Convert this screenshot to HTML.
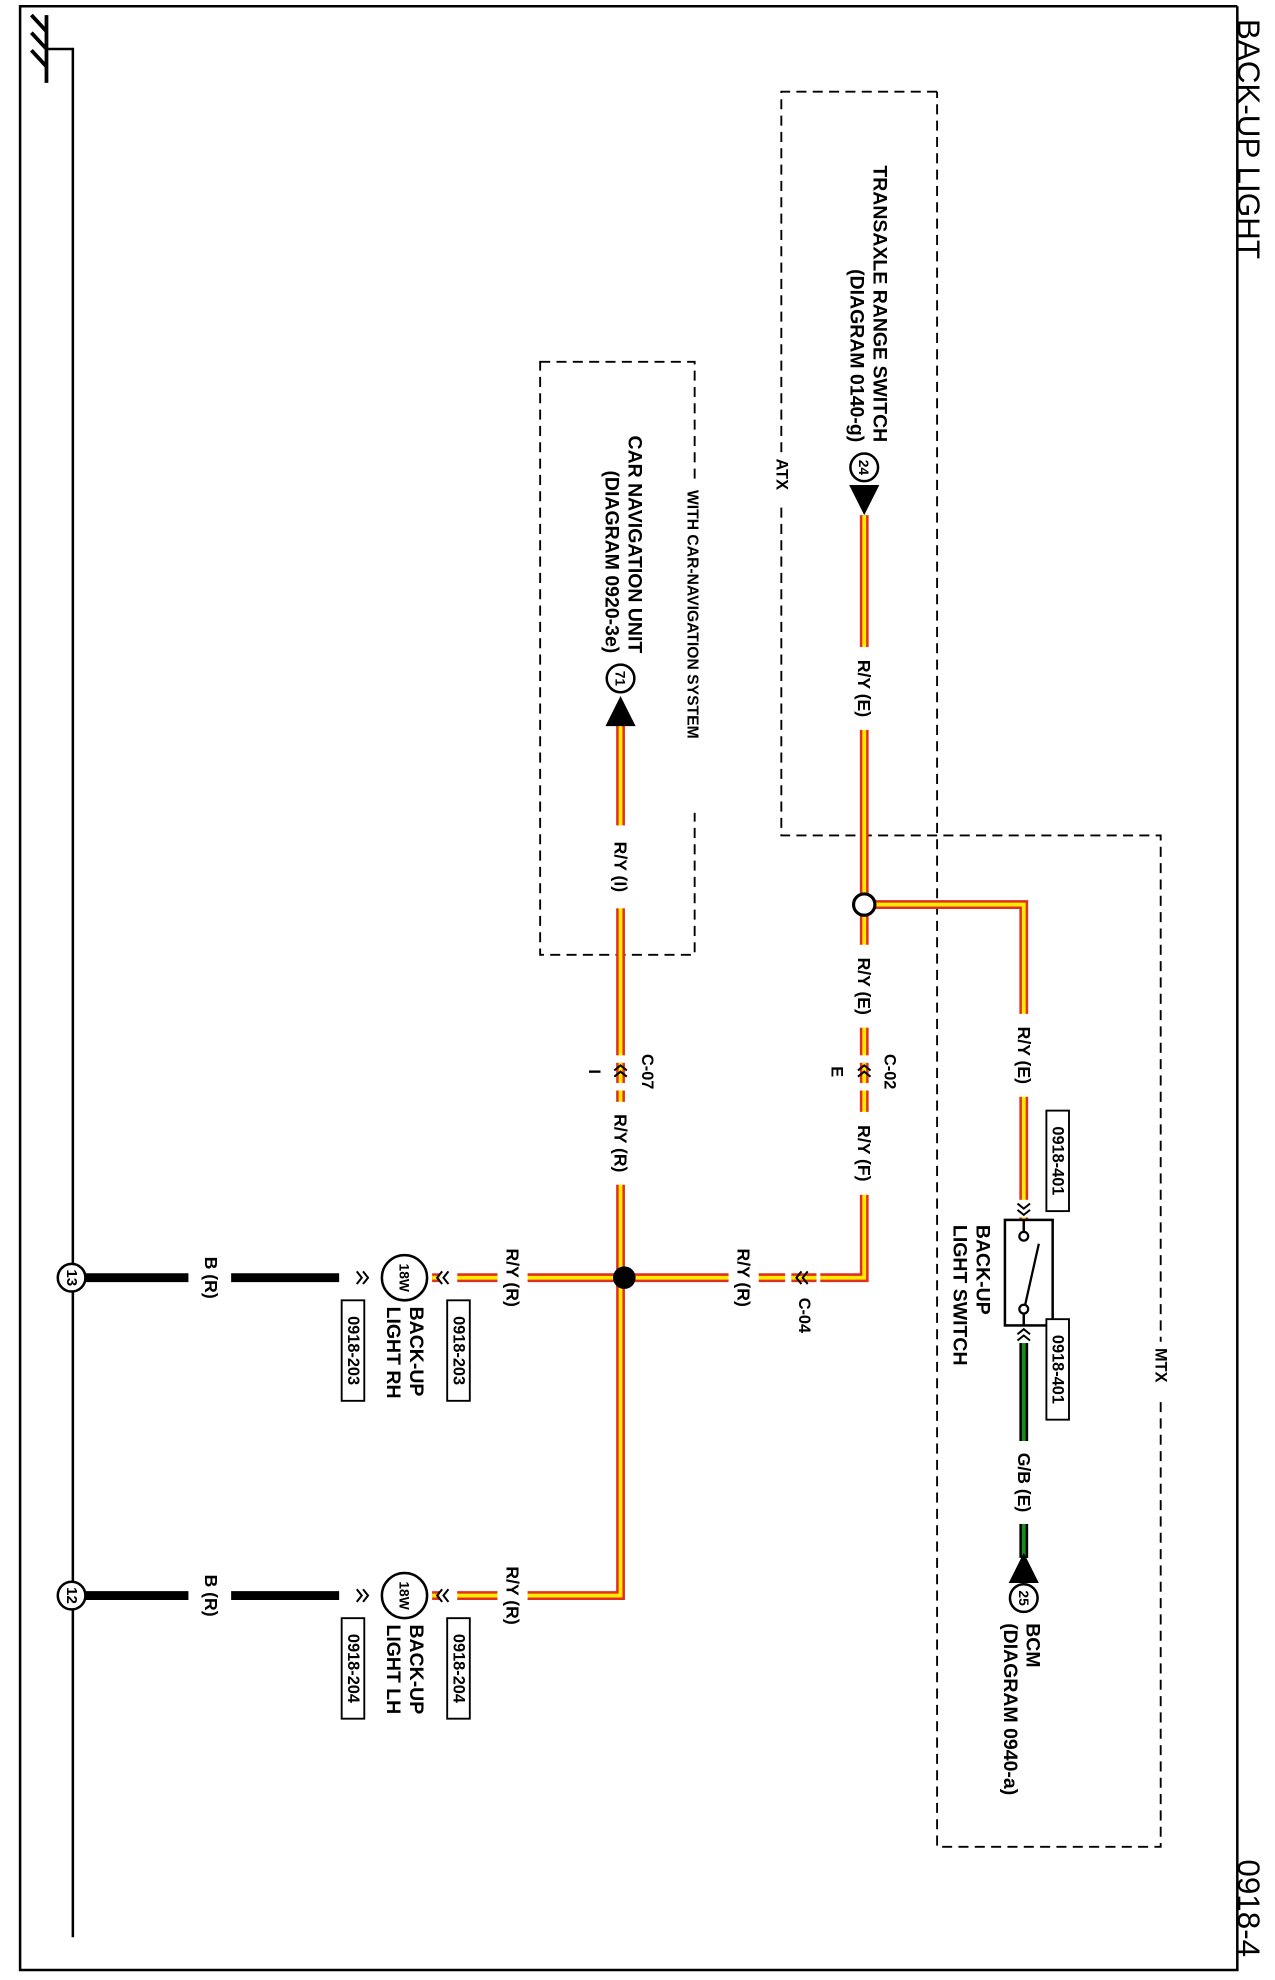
<!DOCTYPE html>
<html><head><meta charset="utf-8"><style>
html,body{margin:0;padding:0;background:#fff}
svg{display:block}
text{font-family:"Liberation Sans",Arial,sans-serif;fill:#000}
.b{font-weight:bold}
</style></head><body>
<svg width="1275" height="1980" viewBox="0 0 1015 1576" preserveAspectRatio="none" xmlns="http://www.w3.org/2000/svg">
<rect width="1015" height="1576" fill="#fff"/>
<polyline points="985,5 16,5 16,1568 985,1568 985,5" fill="none" stroke="#000" stroke-width="2"/>
<text transform="translate(994,15) rotate(90)" font-size="25" dominant-baseline="central">BACK-UP LIGHT</text>
<text transform="translate(994,1480) rotate(90)" font-size="25" dominant-baseline="central">0918-4</text>
<line x1="37" y1="12" x2="37" y2="66" stroke="#000" stroke-width="3"/>
<line x1="25" y1="12" x2="37" y2="25" stroke="#000" stroke-width="3"/>
<line x1="25" y1="26" x2="37" y2="39" stroke="#000" stroke-width="3"/>
<line x1="25" y1="40" x2="37" y2="53" stroke="#000" stroke-width="3"/>
<polyline points="37,39 58,39 58,1542" fill="none" stroke="#000" stroke-width="2"/>

<g fill="none" stroke="#000" stroke-width="1.5" stroke-dasharray="8 5">
<rect x="430" y="288" width="123" height="472"/>
<polyline points="746,73 622,73 622,665 924,665 924,1470 746,1470 746,73"/>
</g>
<rect x="543" y="385" width="16" height="262" fill="#fff"/>
<text class="b" transform="translate(551,390) rotate(90)" font-size="12.5" dominant-baseline="central">WITH CAR-NAVIGATION SYSTEM</text>
<rect x="614" y="360" width="16" height="40" fill="#fff"/>
<text class="b" transform="translate(622,365) rotate(90)" font-size="13" dominant-baseline="central">ATX</text>
<rect x="916" y="1068" width="16" height="46" fill="#fff"/>
<text class="b" transform="translate(924,1073) rotate(90)" font-size="13" dominant-baseline="central">MTX</text>

<g stroke="#000" stroke-width="7">
<line x1="62" y1="1017" x2="283" y2="1017"/>
<line x1="62" y1="1270" x2="283" y2="1270"/>
</g>
<line x1="815" y1="1066" x2="815" y2="1240" stroke="#000" stroke-width="7"/>
<line x1="815" y1="1066" x2="815" y2="1240" stroke="#1a8a1a" stroke-width="3"/>

<g fill="none" stroke="#e0301e" stroke-width="7">
<polyline points="688,410 688,1017 360,1017"/>
<polyline points="494,575 494,1270 360,1270"/>
<polyline points="688,720 815,720 815,972"/>
</g>
<g fill="none" stroke="#ffec00" stroke-width="3">
<polyline points="688,410 688,1017 360,1017"/>
<polyline points="494,575 494,1270 360,1270"/>
<polyline points="688,720 815,720 815,972"/>
</g>

<g fill="#fff">
<rect x="150" y="1005" width="34" height="24"/>
<rect x="150" y="1258" width="34" height="24"/>
<rect x="396" y="1005" width="24" height="24"/>
<rect x="396" y="1258" width="24" height="24"/>
<rect x="580" y="1005" width="24" height="24"/>
<rect x="676" y="515" width="24" height="66"/>
<rect x="676" y="752" width="24" height="66"/>
<rect x="676" y="885" width="24" height="66"/>
<rect x="482" y="657" width="24" height="66"/>
<rect x="482" y="877" width="24" height="66"/>
<rect x="803" y="807" width="24" height="66"/>
<rect x="803" y="1147" width="24" height="66"/>
<rect x="676" y="840" width="24" height="28"/>
<rect x="482" y="840" width="24" height="28"/>
<rect x="625" y="1005" width="28" height="24"/>
<rect x="270" y="1005" width="28" height="24"/>
<rect x="270" y="1258" width="28" height="24"/>
<rect x="340" y="1005" width="24" height="24"/>
<rect x="340" y="1258" width="24" height="24"/>
<rect x="803" y="955" width="24" height="14"/>
<rect x="803" y="1055" width="24" height="14"/>
</g>
<g stroke="#e0301e" stroke-width="7"><line x1="688" y1="846" x2="688" y2="862"/><line x1="494" y1="846" x2="494" y2="862"/><line x1="630" y1="1017" x2="650" y2="1017"/><line x1="344" y1="1017" x2="350" y2="1017"/><line x1="344" y1="1270" x2="350" y2="1270"/></g>
<g stroke="#ffec00" stroke-width="3"><line x1="688" y1="846" x2="688" y2="862"/><line x1="494" y1="846" x2="494" y2="862"/><line x1="630" y1="1017" x2="650" y2="1017"/><line x1="344" y1="1017" x2="350" y2="1017"/><line x1="344" y1="1270" x2="350" y2="1270"/></g>

<g fill="none" stroke="#000" stroke-width="1.6">
<polyline points="683,852 688,848 693,852"/><polyline points="683,857 688,853 693,857"/>
<polyline points="489,852 494,848 499,852"/><polyline points="489,857 494,853 499,857"/>
<polyline points="638,1012 634,1017 638,1022"/><polyline points="643,1012 639,1017 643,1022"/>
<polyline points="352,1012 348,1017 352,1022"/><polyline points="357,1012 353,1017 357,1022"/>
<polyline points="352,1265 348,1270 352,1275"/><polyline points="357,1265 353,1270 357,1275"/>
<polyline points="284,1012 288,1017 284,1022"/><polyline points="289,1012 293,1017 289,1022"/>
<polyline points="284,1265 288,1270 284,1275"/><polyline points="289,1265 293,1270 289,1275"/>
<polyline points="810,958 815,962 820,958"/><polyline points="810,963 815,967 820,963"/>
<polyline points="810,1062 815,1058 820,1062"/><polyline points="810,1067 815,1063 820,1067"/>
</g>

<rect x="800" y="971" width="38" height="84" fill="#fff" stroke="#000" stroke-width="2"/>
<line x1="815" y1="971" x2="815" y2="980" stroke="#000" stroke-width="2"/>
<line x1="815" y1="1045" x2="815" y2="1055" stroke="#000" stroke-width="2"/>
<circle cx="815" cy="984" r="3.5" fill="#fff" stroke="#000" stroke-width="1.8"/>
<circle cx="815" cy="1042" r="3.5" fill="#fff" stroke="#000" stroke-width="1.8"/>
<line x1="816" y1="1039" x2="827" y2="990" stroke="#000" stroke-width="1.8"/>

<circle cx="497" cy="1017" r="9" fill="#000"/>
<circle cx="688" cy="720" r="8.5" fill="#fff" stroke="#000" stroke-width="2.5"/>

<circle cx="322" cy="1017" r="18" fill="#fff" stroke="#000" stroke-width="2"/>
<text class="b" transform="translate(322,1017) rotate(90)" font-size="11" text-anchor="middle" dominant-baseline="central">18W</text>
<circle cx="322" cy="1270" r="18" fill="#fff" stroke="#000" stroke-width="2"/>
<text class="b" transform="translate(322,1270) rotate(90)" font-size="11" text-anchor="middle" dominant-baseline="central">18W</text>

<circle cx="57" cy="1017" r="11" fill="#fff" stroke="#000" stroke-width="2"/>
<text class="b" transform="translate(57,1017) rotate(90)" font-size="12" text-anchor="middle" dominant-baseline="central">13</text>
<circle cx="57" cy="1270" r="11" fill="#fff" stroke="#000" stroke-width="2"/>
<text class="b" transform="translate(57,1270) rotate(90)" font-size="12" text-anchor="middle" dominant-baseline="central">12</text>

<circle cx="688" cy="372" r="11" fill="#fff" stroke="#000" stroke-width="2"/>
<text class="b" transform="translate(688,372) rotate(90)" font-size="11" text-anchor="middle" dominant-baseline="central">24</text>
<polygon points="676,386 700,386 688,410" fill="#000"/>
<circle cx="494" cy="540" r="11" fill="#fff" stroke="#000" stroke-width="2"/>
<text class="b" transform="translate(494,540) rotate(90)" font-size="11" text-anchor="middle" dominant-baseline="central">71</text>
<polygon points="494,554 482,578 506,578" fill="#000"/>
<circle cx="815" cy="1272" r="11" fill="#fff" stroke="#000" stroke-width="2"/>
<text class="b" transform="translate(815,1272) rotate(90)" font-size="11" text-anchor="middle" dominant-baseline="central">25</text>
<polygon points="815,1236 803,1260 827,1260" fill="#000"/>

<g fill="#fff" stroke="#000" stroke-width="1.5">
<rect x="356" y="1035" width="18" height="80"/>
<rect x="272" y="1035" width="18" height="80"/>
<rect x="356" y="1288" width="18" height="80"/>
<rect x="272" y="1288" width="18" height="80"/>
<rect x="833" y="884" width="18" height="80"/>
<rect x="833" y="1050" width="18" height="80"/>
</g>
<g class="b" font-size="13" text-anchor="middle" dominant-baseline="central">
<text transform="translate(365,1075) rotate(90)">0918-203</text>
<text transform="translate(281,1075) rotate(90)">0918-203</text>
<text transform="translate(365,1328) rotate(90)">0918-204</text>
<text transform="translate(281,1328) rotate(90)">0918-204</text>
<text transform="translate(842,924) rotate(90)">0918-401</text>
<text transform="translate(842,1090) rotate(90)">0918-401</text>
<text transform="translate(168,1017) rotate(90)" font-size="14">B (R)</text>
<text transform="translate(168,1270) rotate(90)" font-size="14">B (R)</text>
<text transform="translate(408,1017) rotate(90)" font-size="14">R/Y (R)</text>
<text transform="translate(408,1270) rotate(90)" font-size="14">R/Y (R)</text>
<text transform="translate(592,1017) rotate(90)" font-size="14">R/Y (R)</text>
<text transform="translate(688,548) rotate(90)" font-size="14">R/Y (E)</text>
<text transform="translate(688,785) rotate(90)" font-size="14">R/Y (E)</text>
<text transform="translate(688,918) rotate(90)" font-size="14">R/Y (F)</text>
<text transform="translate(494,690) rotate(90)" font-size="14">R/Y (I)</text>
<text transform="translate(494,910) rotate(90)" font-size="14">R/Y (R)</text>
<text transform="translate(815,840) rotate(90)" font-size="14">R/Y (E)</text>
<text transform="translate(815,1180) rotate(90)" font-size="14">G/B (E)</text>
<text transform="translate(708,853) rotate(90)">C-02</text>
<text transform="translate(666,853) rotate(90)">E</text>
<text transform="translate(515,853) rotate(90)">C-07</text>
<text transform="translate(473,853) rotate(90)">I</text>
<text transform="translate(640,1047) rotate(90)">C-04</text>
</g>
<g class="b" font-size="15.5" dominant-baseline="central">
<text transform="translate(331,1040) rotate(90)">BACK-UP</text>
<text transform="translate(313,1040) rotate(90)">LIGHT RH</text>
<text transform="translate(331,1293) rotate(90)">BACK-UP</text>
<text transform="translate(313,1293) rotate(90)">LIGHT LH</text>
<text transform="translate(782,975) rotate(90)">BACK-UP</text>
<text transform="translate(764,975) rotate(90)">LIGHT SWITCH</text>
<text transform="translate(822,1292) rotate(90)">BCM</text>
<text transform="translate(804,1292) rotate(90)">(DIAGRAM 0940-a)</text>
<text transform="translate(700,352) rotate(90)" text-anchor="end">TRANSAXLE RANGE SWITCH</text>
<text transform="translate(682,352) rotate(90)" text-anchor="end">(DIAGRAM 0140-g)</text>
<text transform="translate(505,520) rotate(90)" text-anchor="end">CAR NAVIGATION UNIT</text>
<text transform="translate(487,520) rotate(90)" text-anchor="end">(DIAGRAM 0920-3e)</text>
</g>
</svg>
</body></html>
